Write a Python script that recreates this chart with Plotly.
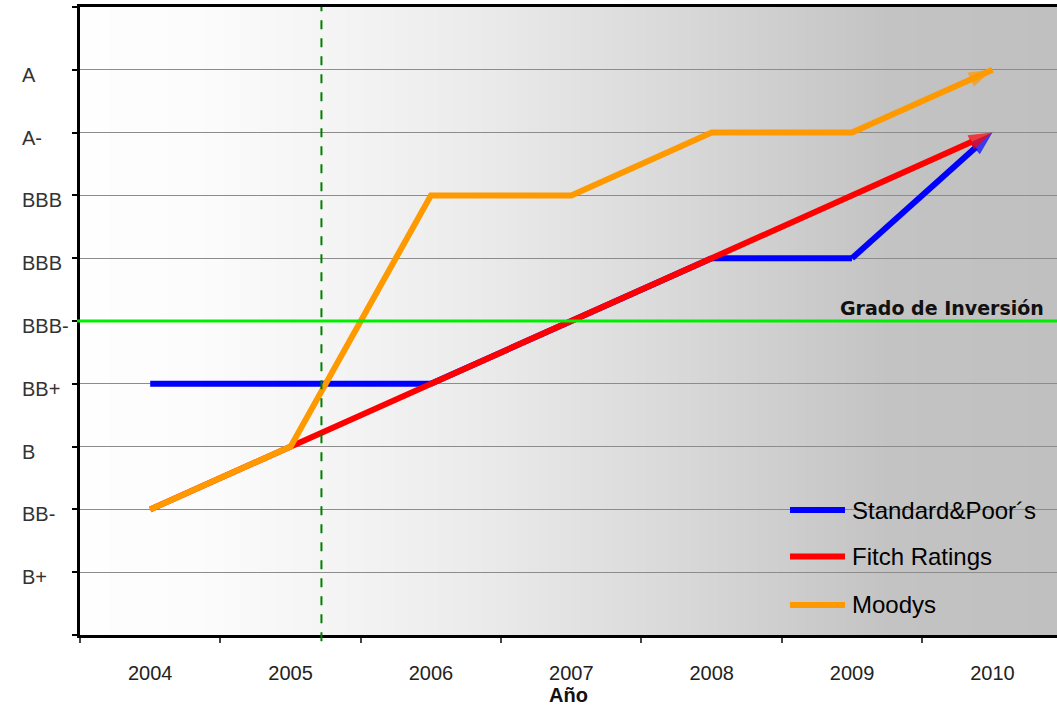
import base64
import struct
import zlib

import plotly.graph_objects as go

# Rating history by agency (numeric rating level per year)
years = [2004, 2005, 2006, 2007, 2008, 2009, 2010]
sp_ratings = [4, 4, 4, 5, 6, 6, 8]
fitch_ratings = [2, 3, 4, 5, 6, 7, 8]
moodys_ratings = [2, 3, 7, 7, 8, 8, 9]

# Rating scale shown on the vertical axis
rating_levels = [1, 2, 3, 4, 5, 6, 7, 8, 9]
rating_labels = ["B+", "BB-", "B", "BB+", "BBB-", "BBB", "BBB", "A-", "A"]

investment_grade_level = 5
event_year = 2005.22

series_names = ["Standard&Poor´s", "Fitch Ratings", "Moodys"]
series_values = [sp_ratings, fitch_ratings, moodys_ratings]
series_colors = ["#0000ff", "#ff0000", "#ff9900"]

FONT = "Liberation Sans, Arial, sans-serif"


def gradient_png(stops, width=512):
    """Horizontal grey gradient as a 1-pixel-high PNG data URI."""
    row = bytearray([0])
    for i in range(width):
        t = i / (width - 1)
        v = stops[-1][1]
        for (t0, c0), (t1, c1) in zip(stops, stops[1:]):
            if t0 <= t <= t1:
                v = c0 + (c1 - c0) * (t - t0) / (t1 - t0)
                break
        g = int(round(v))
        row += bytes([g, g, g])

    def chunk(tag, data):
        return (struct.pack(">I", len(data)) + tag + data
                + struct.pack(">I", zlib.crc32(tag + data) & 0xFFFFFFFF))

    png = (b"\x89PNG\r\n\x1a\n"
           + chunk(b"IHDR", struct.pack(">IIBBBBB", width, 1, 8, 2, 0, 0, 0))
           + chunk(b"IDAT", zlib.compress(bytes(row)))
           + chunk(b"IEND", b""))
    return "data:image/png;base64," + base64.b64encode(png).decode()


bg_stops = [(0.0, 254), (0.12, 252), (0.30, 242), (0.42, 234),
            (0.62, 216), (0.83, 195), (1.0, 192)]

fig = go.Figure()

for name, vals, color in zip(series_names, series_values, series_colors):
    sizes = [0] * (len(vals) - 1) + [25]
    fig.add_trace(go.Scatter(
        x=years, y=vals, name=name, mode="lines+markers",
        showlegend=False,
        line=dict(color=color, width=6),
        marker=dict(symbol="arrow", size=sizes, color=color,
                    angleref="previous", line=dict(width=0)),
        hoverinfo="skip",
    ))

# Legend drawn as line samples with labels, bottom right of the plot area
legend_x0, legend_x1, legend_text_x = 0.7267, 0.783, 0.788
legend_rows = [0.199, 0.125, 0.0478]
for name, color, ly in zip(series_names, series_colors, legend_rows):
    fig.add_shape(type="line", xref="paper", yref="paper",
                  x0=legend_x0, x1=legend_x1, y0=ly, y1=ly,
                  line=dict(color=color, width=6), layer="above")
    fig.add_annotation(text=name, xref="paper", yref="paper",
                       x=legend_text_x, y=ly, xanchor="left",
                       yanchor="middle", showarrow=False,
                       font=dict(family=FONT, size=24, color="#000000"))

# Investment-grade threshold and event marker
fig.add_shape(type="line", xref="paper", x0=-0.003, x1=1, yref="y",
              y0=investment_grade_level, y1=investment_grade_level,
              line=dict(color="#00ee00", width=3), layer="above")
fig.add_shape(type="line", xref="x", x0=event_year, x1=event_year,
              yref="paper", y0=-0.01, y1=1,
              line=dict(color="#008000", width=2, dash="dash"), layer="above")

fig.add_annotation(text="<b>Grado de Inversión</b>", xref="paper", x=1,
                   xanchor="right", xshift=-11, yref="y",
                   y=investment_grade_level, yanchor="bottom", yshift=0,
                   showarrow=False,
                   font=dict(family="DejaVu Sans, Verdana, sans-serif",
                             size=19, color="#111111"))

for lvl, lab in zip(rating_levels, rating_labels):
    fig.add_annotation(text=lab, xref="paper", x=0, xanchor="left",
                       xshift=-60, yref="y", y=lvl, yshift=-5,
                       showarrow=False,
                       font=dict(family=FONT, size=20, color="#333333"))

fig.add_layout_image(source=gradient_png(bg_stops), xref="paper",
                     yref="paper", x=0, y=1, sizex=1, sizey=1,
                     xanchor="left", yanchor="top", sizing="stretch",
                     layer="below")

fig.update_layout(
    width=1057, height=709,
    margin=dict(l=80, r=0, t=7, b=74),
    paper_bgcolor="white",
    plot_bgcolor="rgba(0,0,0,0)",
    font=dict(family=FONT, color="#222222"),
    showlegend=False,
    xaxis=dict(
        range=[2003.5, 2010.46],
        tickvals=years, ticktext=[str(y) for y in years],
        ticks="outside", ticklen=18, tickcolor="rgba(0,0,0,0)",
        tickfont=dict(family=FONT, size=20, color="#222222"),
        minor=dict(tickvals=[2003.5 + k for k in range(8)],
                   ticks="outside", ticklen=5, tickwidth=1.5,
                   tickcolor="#444444", showgrid=False),
        showgrid=False, zeroline=False,
        showline=True, linecolor="black", linewidth=3, mirror=True,
        title=dict(text="<b>Año</b>", standoff=1,
                   font=dict(family=FONT, size=20, color="#111111")),
    ),
    yaxis=dict(
        range=[0, 10], tickvals=list(range(11)), showticklabels=False,
        ticks="outside", ticklen=5, tickwidth=2, tickcolor="black",
        showgrid=True, gridcolor="#8c8c8c", gridwidth=1, zeroline=False,
        showline=True, linecolor="black", linewidth=3,
    ),
)

fig.write_html("out.html")
